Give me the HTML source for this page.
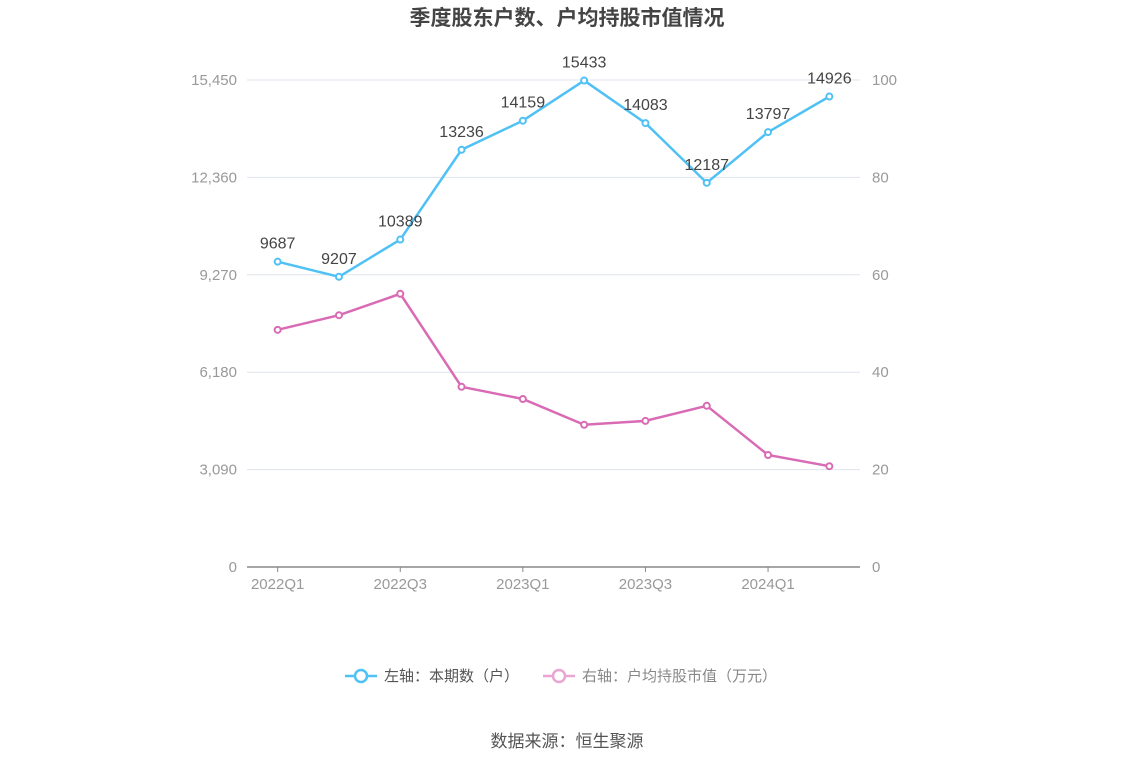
<!DOCTYPE html>
<html><head><meta charset="utf-8"><style>
body{margin:0;background:#fff;font-family:"Liberation Sans","Noto Sans CJK SC",sans-serif;}
</style></head><body>
<svg id="c" width="1134" height="766" xmlns="http://www.w3.org/2000/svg" font-family="Liberation Sans, Noto Sans CJK SC, sans-serif">
<text x="567" y="25" text-anchor="middle" font-size="21" font-weight="bold" fill="#444">季度股东户数、户均持股市值情况</text>
<g id="grid"></g><g id="axes"></g><g id="series"></g>
<g>
<g><line x1="345" y1="676" x2="377" y2="676" stroke="#4fc1f5" stroke-width="2.5"/><circle cx="361" cy="676" r="6" fill="#fff" stroke="#4fc1f5" stroke-width="2.5"/><text x="384" y="681" font-size="15" fill="#555">左轴：本期数（户）</text></g>
<g><line x1="543" y1="676" x2="575" y2="676" stroke="#e8a6d1" stroke-width="2.5"/><circle cx="559" cy="676" r="6" fill="#fff" stroke="#e8a6d1" stroke-width="2.5"/><text x="582" y="681" font-size="15" fill="#888">右轴：户均持股市值（万元）</text></g>
</g>
<text x="567" y="747" text-anchor="middle" font-size="17" fill="#555">数据来源：恒生聚源</text>
</svg>
<script>
const categories=["2022Q1","2022Q2","2022Q3","2022Q4","2023Q1","2023Q2","2023Q3","2023Q4","2024Q1","2024Q2"];
const holders=[9687,9207,10389,13236,14159,15433,14083,12187,13797,14926];
const avgValue=[48.7,51.7,56.1,37.0,34.5,29.2,30.0,33.1,23.0,20.7];
const leftTicks=[0,3090,6180,9270,12360,15450];
const rightTicks=[0,20,40,60,80,100];
const NS="http://www.w3.org/2000/svg";
const x0=247,x1=860,yB=567,yT=80;
const bw=(x1-x0)/categories.length;
const xs=i=>x0+bw*(i+0.5);
const yl=v=>yB-(v/15450)*(yB-yT);
const yr=v=>yB-(v/100)*(yB-yT);
function mk(t,a,p){const e=document.createElementNS(NS,t);for(const k in a)e.setAttribute(k,a[k]);p.appendChild(e);return e;}
const grid=document.getElementById('grid'),axes=document.getElementById('axes'),ser=document.getElementById('series');
leftTicks.forEach((v,i)=>{
 if(i>0){const g=mk('line',{x1:x0,x2:x1,y1:yl(v),y2:yl(v),stroke:'#e0e3ee','stroke-width':1},grid);
 
 }
 const t=mk('text',{x:237,y:yl(v)+5,'text-anchor':'end','font-size':15,fill:'#999'},axes);t.textContent=v.toLocaleString('en-US');
 
 
});
rightTicks.forEach(v=>{
 const t=mk('text',{x:872,y:yr(v)+5,'font-size':15,fill:'#999'},axes);t.textContent=v;
 
 
});
const ax=mk('line',{x1:x0,x2:x1,y1:yB,y2:yB,stroke:'#888','stroke-width':1.5},axes);


categories.forEach((c,i)=>{
 if(i%2)return;
 mk('line',{x1:xs(i),x2:xs(i),y1:yB,y2:yB+5,stroke:'#888'},axes);
 const t=mk('text',{x:xs(i),y:589,'text-anchor':'middle','font-size':15,fill:'#999'},axes);t.textContent=c;
 
 
});
function line(vals,yf,color,name,labels){
 const p=mk('polyline',{points:vals.map((v,i)=>xs(i)+','+yf(v)).join(' '),fill:'none',stroke:color,'stroke-width':2.5},ser);
 
 
 vals.forEach((v,i)=>{
  const c=mk('circle',{cx:xs(i),cy:yf(v),r:3,fill:'#fff',stroke:color,'stroke-width':2},ser);
  
  
  if(labels){const t=mk('text',{x:xs(i),y:yf(v)-13,'text-anchor':'middle','font-size':16,fill:'#444'},ser);t.textContent=v;
  
  }
 });
}
line(avgValue,yr,'#d96bb5','avg-value',false);
line(holders,yl,'#4fc1f5','holders',true);
</script>
</body></html>
